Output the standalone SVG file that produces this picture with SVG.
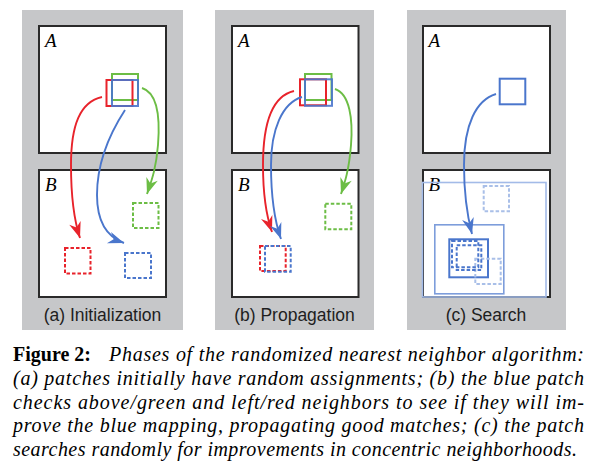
<svg xmlns="http://www.w3.org/2000/svg" width="593" height="471" viewBox="0 0 593 471">
<style>
.panel{fill:#c6c7c9}
.box{fill:#fff;stroke:#2a2a2a;stroke-width:2}
.lbl{font-family:"Liberation Serif","Times New Roman",serif;font-style:italic;font-size:19px;fill:#000}
.sub{font-family:"Liberation Sans",Arial,sans-serif;font-size:17.5px;fill:#1e1e1e;text-anchor:middle}
.cap{font-family:"Liberation Serif","Times New Roman",serif;font-size:20px;fill:#000}
.r{stroke:#e8232b}
.g{stroke:#6cbd45}
.b{stroke:#4a76cc}
.pt{fill:none;stroke-width:2}
.dsh{fill:none;stroke-width:2;stroke-dasharray:3.5 2}
.arr{fill:none;stroke-width:1.9}
</style>
<defs>
<marker id="mr" viewBox="-17 -7 18 14" refX="0" refY="0" markerWidth="18" markerHeight="14" markerUnits="userSpaceOnUse" orient="auto"><path d="M0,0 L-16,-6 L-11,0 L-16,6 Z" fill="#e8232b"/></marker>
<marker id="mg" viewBox="-17 -7 18 14" refX="0" refY="0" markerWidth="18" markerHeight="14" markerUnits="userSpaceOnUse" orient="auto"><path d="M0,0 L-16,-6 L-11,0 L-16,6 Z" fill="#6cbd45"/></marker>
<marker id="mb" viewBox="-17 -7 18 14" refX="0" refY="0" markerWidth="18" markerHeight="14" markerUnits="userSpaceOnUse" orient="auto"><path d="M0,0 L-16,-6 L-11,0 L-16,6 Z" fill="#4a76cc"/></marker>
</defs>

<g id="panel-a">
<rect class="panel" x="22" y="10" width="161" height="320"/>
<rect class="box" x="39" y="26" width="127" height="127"/>
<rect class="box" x="39" y="170" width="127" height="127"/>
<text class="lbl" x="45" y="47">A</text>
<text class="lbl" x="45" y="190.5">B</text>
<rect class="pt g" x="112" y="74" width="26" height="26"/>
<rect class="pt r" x="106.5" y="80" width="26" height="26"/>
<rect class="pt b" x="112" y="80" width="26" height="26" opacity="0.9"/>
<rect class="dsh g" x="133" y="203" width="25.5" height="25"/>
<rect class="dsh r" x="65" y="248" width="25.5" height="25.5"/>
<rect class="dsh b" x="125" y="253" width="26" height="25"/>
<text class="sub" x="102.5" y="320.5">(a) Initialization</text>
</g>

<g id="panel-b">
<rect class="panel" x="215" y="10" width="159" height="320"/>
<rect class="box" x="232" y="26" width="126.5" height="127"/>
<rect class="box" x="232" y="170" width="126.5" height="127"/>
<text class="lbl" x="238" y="47">A</text>
<text class="lbl" x="238" y="190.5">B</text>
<rect class="pt g" x="305" y="74" width="26.5" height="26"/>
<rect class="pt r" x="300" y="79.3" width="26" height="26"/>
<rect class="pt b" x="305" y="79.3" width="27" height="26.5" opacity="0.9"/>
<rect class="dsh g" x="325.3" y="203.7" width="26" height="25.5"/>
<rect class="dsh r" x="260" y="246" width="25.7" height="25"/>
<rect class="dsh b" x="265" y="246" width="25.7" height="25.7"/>
<text class="sub" x="294.5" y="320.5">(b) Propagation</text>
</g>

<g id="panel-c">
<rect class="panel" x="407" y="10" width="159" height="320"/>
<rect class="box" x="423" y="26" width="127" height="127"/>
<rect class="box" x="423" y="170" width="127" height="127"/>
<text class="lbl" x="428.5" y="47">A</text>
<text class="lbl" x="428.5" y="190.5">B</text>
<rect class="pt b" x="499.7" y="78.7" width="25.6" height="25.6"/>
<rect fill="none" stroke="#a3bbe8" stroke-width="1.6" x="422.5" y="182.5" width="123.5" height="114.5"/>
<rect class="dsh" stroke="#a9bfe8" x="483.7" y="186" width="25.3" height="25.3"/>
<rect fill="none" stroke="#7d9ddb" stroke-width="1.6" x="434.8" y="224.8" width="69" height="69"/>
<rect fill="none" stroke="#4a76cc" stroke-width="2" x="449.3" y="239.3" width="38.7" height="38"/>
<rect class="dsh" stroke="#a9bfe8" x="475.3" y="258.7" width="25.4" height="25.3"/>
<rect class="dsh b" x="452" y="241" width="26.3" height="26.3"/>
<rect class="dsh b" x="456.7" y="245.3" width="24.6" height="24.7"/>
<text class="sub" x="486" y="320.5">(c) Search</text>
</g>

<g id="connectors">
<path class="arr r" d="M102,97 C80,102 71,125 71,165 C71,200 74,220 80,238" marker-end="url(#mr)"/>
<path class="arr b" d="M125,110 C112,130 97,160 97,195 C97,225 110,238 124,243" marker-end="url(#mb)"/>
<path class="arr g" d="M142,88 C158,93 160,120 158,145 C156,170 151,182 147,194" marker-end="url(#mg)"/>
<path class="arr r" d="M294,91 C272,96 263,125 263,165 C263,195 266,215 272,232" marker-end="url(#mr)"/>
<path class="arr b" d="M302,97 C282,103 271,130 271,165 C271,200 275,222 281,239" marker-end="url(#mb)"/>
<path class="arr g" d="M335,89 C350,94 353,120 351,145 C349,170 345,182 341,194" marker-end="url(#mg)"/>
<path class="arr b" d="M496,94 C476,100 464,125 464,165 C464,195 467,215 472,234" marker-end="url(#mb)"/>
</g>

<g id="caption">
<text class="cap" x="13" y="361" font-weight="bold" font-size="21">Figure 2:</text>
<text class="cap" x="109" y="361" font-style="italic" textLength="475" lengthAdjust="spacing">Phases of the randomized nearest neighbor algorithm:</text>
<text class="cap" x="13" y="385" font-style="italic" textLength="571" lengthAdjust="spacing">(a) patches initially have random assignments; (b) the blue patch</text>
<text class="cap" x="13" y="409" font-style="italic" textLength="571" lengthAdjust="spacing">checks above/green and left/red neighbors to see if they will im-</text>
<text class="cap" x="13" y="432" font-style="italic" textLength="571" lengthAdjust="spacing">prove the blue mapping, propagating good matches; (c) the patch</text>
<text class="cap" x="13" y="456" font-style="italic" textLength="564" lengthAdjust="spacing">searches randomly for improvements in concentric neighborhoods.</text>
</g>
</svg>
